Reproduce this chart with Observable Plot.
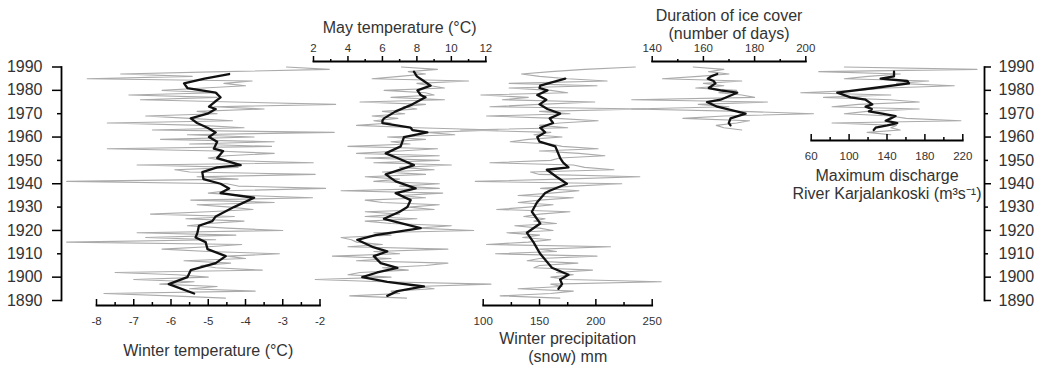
<!DOCTYPE html>
<html><head><meta charset="utf-8">
<script src="https://cdn.jsdelivr.net/npm/d3@7"></script>
<script src="https://cdn.jsdelivr.net/npm/@observablehq/plot@0.6"></script>
<style>
body{margin:0;background:#fff;}
#chart{position:relative;width:1047px;height:365px;overflow:hidden;background:#fff;}
#chart svg{position:absolute;left:0;top:0;overflow:visible;}
</style></head><body><div id="chart"></div>
<script>
// ---- data ----
const years = d3.range(1891, 1991);
const winterTemp = [
  -4.54,-6.0,-7.8,-3.74,-5.5,-4.76,-6.3,-5.38,-7.0,-5.0,
  -5.83,-7.5,-3.55,-4.8,-5.2,-4.4,-5.65,-4.0,-4.5,-3.09,
  -5.0,-6.24,-5.0,-4.1,-8.8,-4.8,-6.68,-4.26,-6.91,-3.0,
  -4.5,-5.56,-5.0,-4.04,-5.6,-4.3,-6.55,-5.0,-3.8,-4.4,
  -5.3,-3.23,-5.47,-2.2,-4.0,-5.0,-4.5,-1.85,-4.2,-4.5,
  -8.8,-4.2,-5.3,-2.13,-5.5,-5.9,-4.2,-6.91,-2.18,-4.6,
  -5.0,-4.5,-3.23,-4.76,-7.71,-3.3,-5.5,-3.23,-6.28,-3.77,
  -5.56,-1.62,-6.5,-4.04,-5.2,-7.71,-4.35,-5.5,-6.68,-4.76,
  -5.3,-3.5,-4.85,-1.58,-4.3,-6.82,-4.76,-7.13,-4.76,-6.24,
  -5.12,-4.0,-4.58,-3.82,-8.25,-5.43,-7.35,-4.6,-1.75,-2.9
];
const winterSmoothYears = [1893,1897,1900,1903,1906,1909,1912,1915,1917,1919,1922,1924,1926,1930,1934,1936,1938,1940,1942,1945,1947,1948,1951,1954,1955,1958,1960,1962,1964,1966,1968,1970,1972,1973,1975,1977,1979,1981,1983,1985,1987];
const winterSmooth = [-5.38,-6.06,-5.56,-5.47,-4.8,-4.53,-5.02,-5.07,-5.34,-5.29,-5.25,-4.89,-4.8,-4.31,-3.77,-4.67,-4.44,-4.67,-5.13,-5.16,-4.76,-4.13,-4.76,-4.6,-4.85,-4.76,-4.98,-4.8,-5.02,-5.3,-5.47,-5.02,-4.8,-4.98,-4.83,-4.67,-4.8,-5.56,-5.65,-5.1,-4.44];

const mayTemp = [
  7.4,4.1,7.0,6.5,9.0,8.0,12.3,6.0,2.1,6.5,
  4.0,4.7,7.5,6.0,8.5,9.8,4.5,6.5,3.1,7.0,
  5.5,9.8,4.0,6.0,4.5,4.2,3.6,6.5,5.5,11.3,
  8.0,10.0,6.5,5.0,8.0,5.0,7.0,5.0,9.0,7.5,
  9.3,6.0,5.0,8.5,7.0,9.5,3.6,9.3,7.0,9.3,
  5.5,7.0,5.0,8.5,6.0,9.0,7.0,10.0,5.5,9.3,
  5.0,9.3,4.5,7.0,9.2,4.0,7.6,6.5,8.5,6.3,
  10.2,8.6,12.7,8.0,4.5,6.5,5.5,6.9,5.4,7.3,
  6.0,8.0,7.2,8.5,4.7,9.6,6.5,9.0,8.5,6.1,
  9.6,8.8,8.0,11.0,5.4,7.0,8.5,7.5,9.2,7.1
];
const maySmoothYears = [1892,1894,1896,1898,1900,1902,1904,1906,1909,1911,1913,1916,1918,1921,1925,1928,1930,1933,1936,1938,1941,1944,1948,1951,1953,1956,1960,1962,1963,1964,1966,1967,1968,1971,1974,1977,1978,1980,1982,1984,1986,1988];
const maySmooth = [6.28,6.87,8.41,6.28,4.83,5.7,6.87,5.9,5.5,6.28,5.41,4.54,5.6,8.22,6.09,7.0,7.45,7.64,6.77,7.93,6.77,6.19,7.83,6.87,6.19,7.06,7.25,8.61,7.74,7.64,6.0,6.0,6.09,6.77,7.74,8.5,8.22,8.03,8.8,8.4,8.0,7.83];

const winterPrecip = [
  168,115,160,180,131,170,160,258,175,160,
  180,165,197,145,150,184,139,150,201,111,
  165,150,213,103,140,160,135,150,121,162,
  150,128,165,145,155,136,150,177,112,140,
  162,131,150,180,131,160,185,151,180,223,
  93,170,239,150,142,216,190,180,106,160,
  168,208,185,150,202,170,160,124,140,170,
  145,160,80,175,150,168,202,165,103,177,
  150,244,106,150,199,117,140,98,175,160,
  123,201,123,210,175,150,134,160,190,235
];
const precipSmoothYears = [1895,1897,1899,1901,1904,1910,1915,1919,1923,1928,1932,1936,1937,1940,1943,1946,1947,1949,1951,1956,1958,1960,1962,1964,1966,1968,1970,1972,1974,1976,1978,1980,1981,1982,1985];
const precipSmooth = [166.8,170,168.3,175.7,161,150.6,144.6,138.8,150.6,143.2,147.7,155,159,174.3,165,156.5,175.7,171,168.3,164,150,148,155,150.6,162,159,168.3,157,150,156,148,157,150,150.6,172.8];

const iceYears = d3.range(1963, 1991);
const iceDays = [175,168,165,173,178,152,168,203,175,132,170,158,185,132,180,175,166,173,157,168,160,175,144,158,170,162,168,156];
const iceSmoothYears = [1965,1966,1968,1970,1973,1975,1976,1979,1980,1981,1983,1984,1985,1986,1987];
const iceSmooth = [170.6,169.9,170.6,176.5,165.4,161.4,166.7,173.2,166.7,162.1,164.7,164,161.7,163,165.4];

const dischargeYears = d3.range(1961, 1991);
const discharge = [144,119,154,144,150,82,218,160,144,95,119,174,82,110,174,143,73,144,49,110,140,211,150,184,95,120,154,68,235,95];
const dischargeSmoothYears = [1963,1964,1965,1966,1967,1968,1969,1970,1971,1972,1973,1974,1976,1977,1979,1981,1983,1984,1985,1986,1988];
const dischargeSmooth = [126,128,140.3,150.8,138.6,144,149.1,135,120.9,124,117.4,124.5,117.4,101.6,87.5,126.2,163.2,161.5,133.3,147.4,147.4];

const yearLong = [1890,1900,1920,1940,1960,1980,1990];
const yearShort = [1910,1930,1950,1970];
const yearLabels = [1890,1900,1910,1920,1930,1940,1950,1960,1970,1980,1990];

// ---- layout ----
const W = 1047, H = 365;
const yDomain = [1890, 1990], yRange = [300, 66.5];
const GRAY = "#ababab", BLACK = "#111", TEXT = "#333";
const FONT = "'Liberation Sans', Arial, sans-serif";
const chart = document.getElementById("chart");

function panel(o) {
  const data = o.years.map((year, i) => ({year, v: o.values[i]}));
  const smooth = o.smoothYears.map((year, i) => ({year, v: o.smooth[i]}));
  const bottom = o.anchor === "bottom";
  const svg = Plot.plot({
    width: W, height: H,
    marginLeft: o.x0, marginRight: W - o.x1,
    marginTop: bottom ? 0 : o.axisAt,
    marginBottom: bottom ? H - o.axisAt : 0,
    x: {domain: o.domain, axis: null},
    y: {domain: yDomain, range: yRange, axis: null},
    style: {background: "transparent", overflow: "visible", fontFamily: FONT},
    marks: [
      Plot.line(data, {x: "v", y: "year", stroke: GRAY, strokeWidth: 1.1}),
      Plot.line(smooth, {x: "v", y: "year", stroke: BLACK, strokeWidth: 2.3, strokeLinejoin: "round"}),
      Plot.frame({anchor: o.anchor, stroke: "#000", strokeWidth: 1.8}),
      Plot.axisX(o.minor, {anchor: o.anchor, tickSize: 3, dy: bottom ? -3 : 0, fill: "none", stroke: "#000", strokeWidth: 1.5, label: null}),
      Plot.axisX(o.major, {anchor: o.anchor, tickSize: 6, dy: bottom ? -6 : 0, fill: "none", stroke: "#000", strokeWidth: 1.5, label: null}),
      Plot.axisX(o.major, {anchor: o.anchor, tickSize: 0, tickPadding: o.pad, stroke: "none", fill: TEXT, fontSize: 11.5, tickFormat: d => String(d), label: null}),
      Plot.text([o.title], {text: d => d, frameAnchor: bottom ? "bottom" : "top", dy: o.titleDy, lineAnchor: "middle", fontSize: 16, lineHeight: 1.13, fill: TEXT})
    ]
  });
  chart.appendChild(svg);
}

panel({years, values: winterTemp, smoothYears: winterSmoothYears, smooth: winterSmooth,
  domain: [-8, -2], x0: 96, x1: 319.5, anchor: "bottom", axisAt: 305, pad: 11,
  major: [-8,-7,-6,-5,-4,-3,-2], minor: [-7.5,-6.5,-5.5,-4.5,-3.5,-2.5],
  title: "Winter temperature (°C)", titleDy: 45});

panel({years, values: mayTemp, smoothYears: maySmoothYears, smooth: maySmooth,
  domain: [2, 12], x0: 313, x1: 485.3, anchor: "top", axisAt: 61, pad: 10,
  major: [2,4,6,8,10,12], minor: [3,5,7,9,11],
  title: "May temperature (°C)", titleDy: -34});

panel({years, values: winterPrecip, smoothYears: precipSmoothYears, smooth: precipSmooth,
  domain: [100, 250], x0: 482.7, x1: 651.7, anchor: "bottom", axisAt: 305, pad: 11,
  major: [100,150,200,250], minor: [125,175,225],
  title: "Winter precipitation\n(snow) mm", titleDy: 42});

panel({years: iceYears, values: iceDays, smoothYears: iceSmoothYears, smooth: iceSmooth,
  domain: [140, 200], x0: 651.7, x1: 805.3, anchor: "top", axisAt: 61, pad: 10,
  major: [140,160,180,200], minor: [150,170,190],
  title: "Duration of ice cover\n(number of days)", titleDy: -37});

panel({years: dischargeYears, values: discharge, smoothYears: dischargeSmoothYears, smooth: dischargeSmooth,
  domain: [60, 220], x0: 810.7, x1: 962.3, anchor: "bottom", axisAt: 140, pad: 11,
  major: [60,100,140,180,220], minor: [80,120,160,200],
  title: "Maximum discharge\nRiver Karjalankoski (m³s⁻¹)", titleDy: 44});

// year axes
const ySvg = Plot.plot({
  width: W, height: H,
  marginLeft: 61, marginRight: W - 984, marginTop: 66.5, marginBottom: H - 300,
  y: {domain: yDomain, range: yRange, axis: null},
  style: {background: "transparent", overflow: "visible", fontFamily: FONT},
  marks: [
    Plot.frame({anchor: "left", stroke: "#000", strokeWidth: 1.8}),
    Plot.frame({anchor: "right", stroke: "#000", strokeWidth: 1.8}),
    Plot.axisY(yearLong, {anchor: "left", tickSize: 9, fill: "none", stroke: "#000", strokeWidth: 1.5, label: null}),
    Plot.axisY(yearShort, {anchor: "left", tickSize: 4, fill: "none", stroke: "#000", strokeWidth: 1.5, label: null}),
    Plot.axisY(yearLabels, {anchor: "left", tickSize: 0, tickPadding: 19, stroke: "none", fill: TEXT, fontSize: 16, tickFormat: d => String(d), label: null}),
    Plot.axisY(yearLong, {anchor: "right", tickSize: 6, fill: "none", stroke: "#000", strokeWidth: 1.5, label: null}),
    Plot.axisY(yearShort, {anchor: "right", tickSize: 3, fill: "none", stroke: "#000", strokeWidth: 1.5, label: null}),
    Plot.axisY(yearLabels, {anchor: "right", tickSize: 0, tickPadding: 14, stroke: "none", fill: TEXT, fontSize: 16, tickFormat: d => String(d), label: null})
  ]
});
chart.appendChild(ySvg);
</script>
</body></html>
